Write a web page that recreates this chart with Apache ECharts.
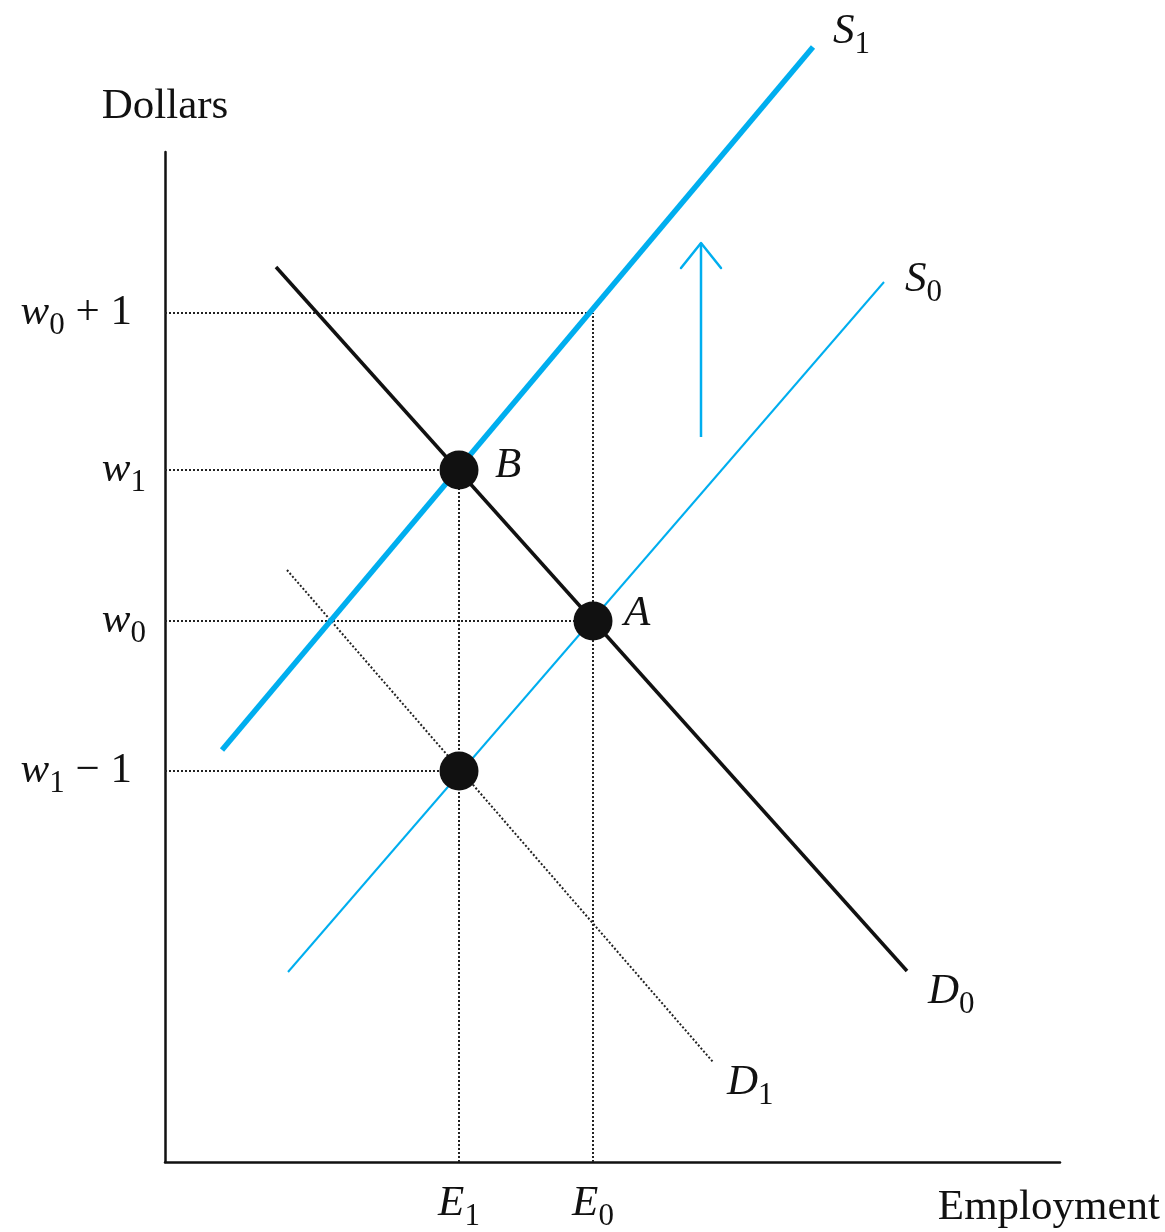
<!DOCTYPE html>
<html>
<head>
<meta charset="utf-8">
<script src="https://cdn.jsdelivr.net/npm/echarts@6/dist/echarts.min.js"></script>
<style>
  html, body { margin: 0; padding: 0; background: #fff; }
  #chart { width: 1165px; height: 1232px; }
</style>
</head>
<body>
<div id="chart"></div>
<script>
// axis units: employment 0..89.5, dollars 0..101
const wageLevels = [84.9, 69.2, 54.1, 39.1];
const wageLabels = ['w0 + 1', 'w1', 'w0', 'w1 − 1'];
const wageGuideEnds = [42.8, 29.4, 42.8, 29.4];

const empLevels = [29.4, 42.8];
const empLabels = ['E1', 'E0'];
const empGuideTops = [69.2, 84.9];

const supplyS1 = [[5.7, 41.2], [64.8, 111.5]];
const supplyS0 = [[12.3, 19.0], [71.9, 88.0]];
const demandD0 = [[11.1, 89.5], [74.2, 19.1]];
const demandD1 = [[12.2, 59.2], [54.8, 10.0]];

const arrowShaft = [[53.6, 72.5], [53.6, 91.9]];
const arrowHead = [[51.6, 89.4], [53.6, 91.9], [55.6, 89.4]];

const equilibria = [[29.4, 69.2], [42.8, 54.1], [29.4, 39.1]];

const curveNames = ['S1', 'S0', 'D0', 'D1', 'B', 'A'];
const curveNamePos = [[66.8, 113.0], [74.0, 88.2], [76.3, 17.0], [56.2, 7.9], [33.0, 69.6], [45.9, 54.8]];

const FONT = 'Liberation Serif';
const BLUE = '#00AEEF';

const rich = {
    it: { fontFamily: FONT, fontStyle: 'italic', fontSize: 43, color: '#111' },
    sub: { fontFamily: FONT, fontSize: 31, color: '#111', padding: [26, 0, 0, 0] },
    rm: { fontFamily: FONT, fontSize: 43, color: '#111' },
    gap: { width: 14 }
};

// "w0 + 1" -> italic letter, subscript digit, rest upright
function mathText(s) {
    const m = s.match(/^([A-Za-z])(\d?)(.*)$/);
    let out = '{it|' + m[1] + '}';
    if (m[2]) out += '{sub|' + m[2] + '}';
    if (m[3]) out += '{rm|' + m[3] + '}{gap| }';
    return out;
}

const chart = echarts.init(document.getElementById('chart'));

const guides = [];
wageLevels.forEach((w, i) => {
    guides.push({
        type: 'line', silent: true, symbol: 'none', clip: false,
        data: [[0, w], [wageGuideEnds[i], w]],
        lineStyle: { color: '#222', width: 2, type: [2, 2] },
        z: 1
    });
});
empLevels.forEach((e, i) => {
    guides.push({
        type: 'line', silent: true, symbol: 'none', clip: false,
        data: [[e, 0], [e, empGuideTops[i]]],
        lineStyle: { color: '#222', width: 2, type: [2, 2] },
        z: 1
    });
});

const options = {
    animation: false,
    backgroundColor: '#fff',
    grid: { left: 165, right: 105, top: 152, bottom: 70, outerBoundsMode: 'none', containLabel: false },
    xAxis: {
        type: 'value', min: 0, max: 89.5,
        splitLine: { show: false },
        axisLine: { lineStyle: { color: '#111', width: 2.5 } },
        axisTick: { show: false },
        axisLabel: {
            customValues: empLevels,
            margin: 13,
            formatter: v => mathText(empLabels[empLevels.indexOf(v)]),
            rich: rich
        },
        name: 'Employment',
        nameLocation: 'end',
        nameGap: 100,
        nameTextStyle: {
            fontFamily: FONT, fontSize: 43, color: '#111',
            align: 'right', verticalAlign: 'top', padding: [24, 0, 0, 0]
        }
    },
    yAxis: {
        type: 'value', min: 0, max: 101,
        splitLine: { show: false },
        axisLine: { lineStyle: { color: '#111', width: 2.5 } },
        axisTick: { show: false },
        axisLabel: {
            customValues: wageLevels,
            margin: 19,
            formatter: v => mathText(wageLabels[wageLevels.indexOf(v)]),
            rich: rich
        },
        name: 'Dollars',
        nameLocation: 'end',
        nameGap: 45,
        nameTextStyle: {
            fontFamily: FONT, fontSize: 43, color: '#111',
            align: 'center', verticalAlign: 'middle'
        }
    },
    series: guides.concat([
        {
            name: 'D1', type: 'line', symbol: 'none', clip: false, data: demandD1,
            lineStyle: { color: '#222', width: 2, type: [2, 2] }, z: 2
        },
        {
            name: 'S0', type: 'line', symbol: 'none', clip: false, data: supplyS0,
            lineStyle: { color: BLUE, width: 2 }, z: 3
        },
        {
            name: 'S1', type: 'line', symbol: 'none', clip: false, data: supplyS1,
            lineStyle: { color: BLUE, width: 5.5 }, z: 3
        },
        {
            name: 'D0', type: 'line', symbol: 'none', clip: false, data: demandD0,
            lineStyle: { color: '#111', width: 3.5 }, z: 4
        },
        {
            name: 'shift', type: 'line', symbol: 'none', clip: false, data: arrowShaft,
            lineStyle: { color: BLUE, width: 2.5 }, z: 3
        },
        {
            name: 'shiftHead', type: 'line', symbol: 'none', clip: false, data: arrowHead,
            lineStyle: { color: BLUE, width: 2.5, cap: 'round', join: 'round' }, z: 3
        },
        {
            name: 'equilibria', type: 'scatter', clip: false, data: equilibria,
            symbolSize: 39, itemStyle: { color: '#111', opacity: 1 }, z: 5
        },
        {
            name: 'names', type: 'scatter', clip: false, symbolSize: 0,
            itemStyle: { opacity: 1 },
            data: curveNames.map((n, i) => ({ name: n, value: curveNamePos[i] })),
            label: {
                show: true, position: 'right', distance: 0,
                color: '#111',
                formatter: p => mathText(p.name),
                rich: rich
            },
            z: 6
        }
    ])
};

chart.setOption(options);
</script>
</body>
</html>
